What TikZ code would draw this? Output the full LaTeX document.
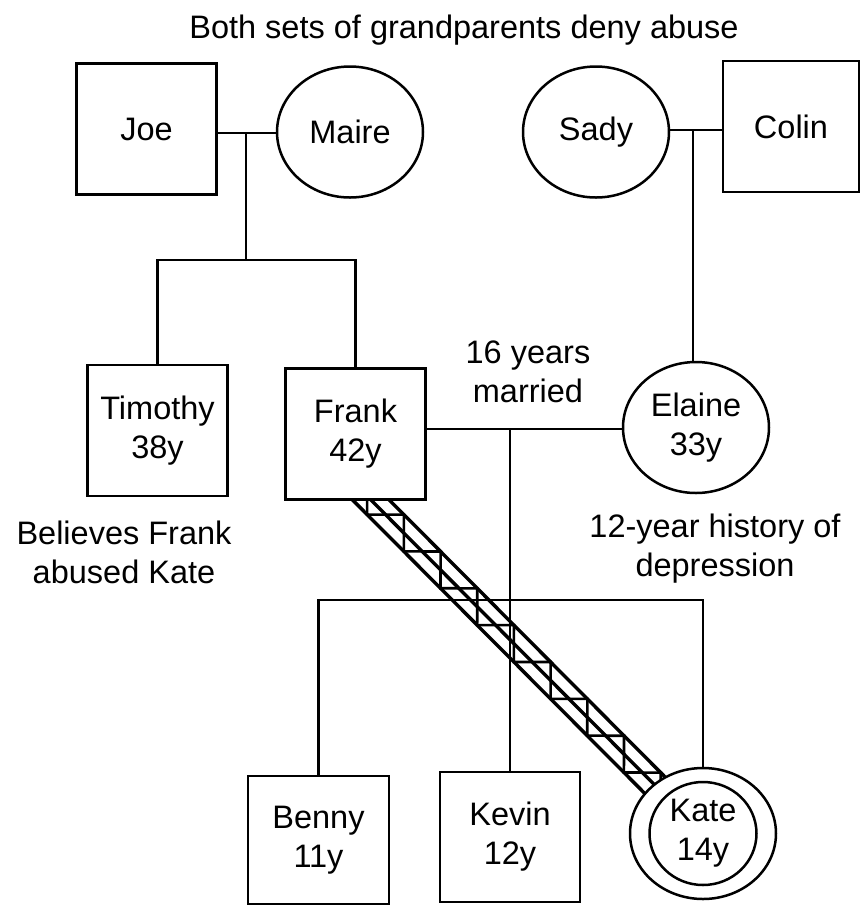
\documentclass[tikz,border=0pt]{standalone}
\usepackage{fontspec}
\setmainfont{Liberation Sans}
\usetikzlibrary{shapes.geometric,calc,decorations.pathmorphing}
\pgfdeclarelayer{background}
\pgfsetlayers{background,main}
\begin{document}
\begin{tikzpicture}[x=1pt,y=-1pt,
  every node/.style={font=\fontsize{32.5}{39}\selectfont, inner sep=0pt, align=center},
  male/.style={rectangle, draw, fill=white, line width=2.5pt,
    minimum width=140pt, minimum height=131pt},
  female/.style={ellipse, draw, fill=white, line width=2.5pt,
    minimum width=146pt, minimum height=131pt},
  conn/.style={line width=2.2pt},
  bandline/.style={line width=3.4pt},
  zig/.style={line width=2.6pt, line join=miter, decorate,
    decoration={zigzag, amplitude=13pt, segment length=52pt}}
]
\useasboundingbox (0,0) rectangle (862,906);

% heading
\node[anchor=base] (title) at (464,38) {Both sets of grandparents deny abuse};

% grandparents
\node[male]   (joe)   at (146.5,129) {Joe};
\node[female] (maire) at (350,132)   {Maire};
\node[female] (sady)  at (596,132)   {Sady};
\node[male, minimum width=136pt] (colin) at (791,126.5) {Colin};

% parents and uncle
\node[male]   (timothy) at (157.5,430.5) {Timothy\\38y};
\node[male]   (frank)   at (355.5,434)   {Frank\\42y};
\node[female] (elaine)  at (696,427.5)   {Elaine\\33y};

% children
\node[male, minimum width=141pt, minimum height=128pt] (benny) at (318.5,840) {Benny\\11y};
\node[male, minimum height=130pt] (kevin) at (510,837) {Kevin\\12y};
\node[female] (kate) at (703,833.5) {};
\node[ellipse, draw, line width=2.5pt, minimum width=107pt, minimum height=103pt]
  (kateinner) at (kate.center) {Kate\\14y};

% notes
\node (married)    at (528,372) {16 years\\married};
\node (believes)   at (124,552) {Believes Frank\\abused Kate};
\node (depression) at (715,549) {12-year history of\\depression};

% couple and sibling connectors
\coordinate (jm)   at (246,133);
\coordinate (bar1) at (246,260);
\draw[conn] (joe.east |- jm) -- (maire.west |- jm);
\draw[conn] (jm) -- (bar1);
\draw[conn] (timothy.north) -- (timothy.north |- bar1)
  -- (frank.north |- bar1) -- (frank.north);

\coordinate (sc) at (693,130);
\draw[conn] (sady.east |- sc) -- (colin.west |- sc);
\draw[conn] (sc) -- (sc |- elaine.north);

\coordinate (fe)   at (510,429);
\coordinate (bar2) at (510,600);
\draw[conn] (frank.east |- fe) -- (elaine.west |- fe);
\draw[conn] (fe) -- (kevin.north);
\draw[conn] (benny.north) -- (benny.north |- bar2)
  -- (kate.north |- bar2) -- (kate.north);

% abuse relation Frank -> Kate: three parallel lines with a zigzag
\coordinate (abtop) at (370,499);
\coordinate (s0) at ($(abtop)!-30pt!(kate.center)$);
\coordinate (s1) at ($(s0)!13pt!90:(kate.center)$);
\coordinate (s2) at ($(s0)!13pt!-90:(kate.center)$);
\coordinate (e1) at ($(kate.center)!13pt!-90:(s0)$);
\coordinate (e2) at ($(kate.center)!13pt!90:(s0)$);
\begin{pgfonlayer}{background}
  \draw[bandline] (s0) -- (kate.center);
  \draw[bandline] (s1) -- (e1);
  \draw[bandline] (s2) -- (e2);
  \draw[zig] (s0) -- (kate.center);
\end{pgfonlayer}
\end{tikzpicture}
\end{document}
